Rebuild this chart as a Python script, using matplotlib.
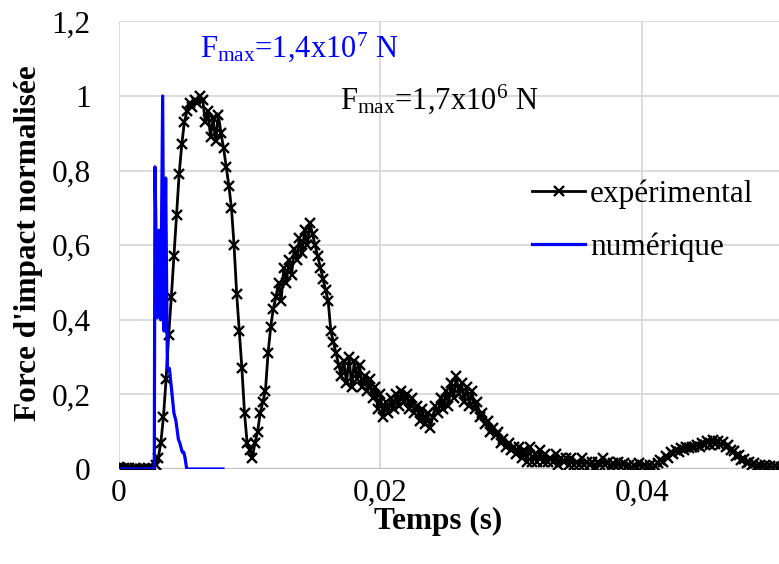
import numpy as np
import matplotlib
matplotlib.use('Agg')
import matplotlib.pyplot as plt

plt.rcParams['font.family'] = ['Liberation Serif', 'DejaVu Serif']
plt.rcParams['mathtext.fontset'] = 'custom'
plt.rcParams['mathtext.rm'] = 'Liberation Serif'
plt.rcParams['mathtext.it'] = 'Liberation Serif:italic'

# experimental signal, sampled every 0.2 ms
dt_exp = 0.0002
force_exp = [
    0.005, 0.0, 0.004, 0.0, 0.003, 0.0, 0.002, 0.001, 0.0, 0.001,
    0.0, 0.003, 0.0, 0.002, 0.01, 0.03, 0.07, 0.14, 0.24, 0.36,
    0.46, 0.57, 0.68, 0.79, 0.87, 0.93, 0.96, 0.98, 0.97, 0.99,
    0.98, 1.0, 0.99, 0.93, 0.96, 0.89, 0.94, 0.88, 0.95, 0.90,
    0.86, 0.81, 0.76, 0.70, 0.60, 0.47, 0.37, 0.27, 0.15, 0.07,
    0.05, 0.03, 0.07, 0.10, 0.15, 0.18, 0.21, 0.31, 0.38, 0.43,
    0.46, 0.50, 0.45, 0.54, 0.50, 0.56, 0.52, 0.59, 0.56, 0.62,
    0.58, 0.64, 0.60, 0.66, 0.63, 0.60, 0.57, 0.54, 0.51, 0.48,
    0.45, 0.37, 0.34, 0.31, 0.28, 0.25, 0.29, 0.23, 0.30, 0.22,
    0.29, 0.24, 0.28, 0.22, 0.25, 0.21, 0.24, 0.19, 0.22, 0.16,
    0.20, 0.14, 0.18, 0.15, 0.19, 0.16, 0.20, 0.17, 0.21, 0.18,
    0.20, 0.16, 0.19, 0.15, 0.17, 0.13, 0.16, 0.12, 0.15, 0.11,
    0.14, 0.17, 0.15, 0.19, 0.16, 0.21, 0.17, 0.23, 0.19, 0.25,
    0.20, 0.23, 0.18, 0.22, 0.17, 0.21, 0.16, 0.18, 0.14, 0.15,
    0.12, 0.13, 0.10, 0.11, 0.09, 0.10, 0.07, 0.08, 0.06, 0.07,
    0.05, 0.06, 0.04, 0.06, 0.03, 0.05, 0.02, 0.06, 0.02, 0.04,
    0.02, 0.05, 0.02, 0.04, 0.02, 0.03, 0.02, 0.04, 0.01, 0.03,
    0.02, 0.03, 0.01, 0.03, 0.01, 0.02, 0.01, 0.03, 0.01, 0.02,
    0.01, 0.02, 0.005, 0.02, 0.01, 0.03, 0.01, 0.02, 0.005, 0.015,
    0.005, 0.02, 0.005, 0.015, 0.005, 0.01, 0.003, 0.012, 0.004, 0.015,
    0.005, 0.012, 0.003, 0.01, 0.002, 0.008, 0.015, 0.025, 0.02, 0.035,
    0.03, 0.045, 0.04, 0.05, 0.045, 0.055, 0.05, 0.06, 0.055, 0.06,
    0.058, 0.065, 0.06, 0.07, 0.065, 0.075, 0.065, 0.078, 0.068, 0.075,
    0.065, 0.072, 0.06, 0.065, 0.05, 0.048, 0.035, 0.038, 0.025, 0.028,
    0.015, 0.02, 0.01, 0.015, 0.008, 0.012, 0.005, 0.01, 0.004, 0.009,
    0.003, 0.008, 0.004, 0.006,
]
time_exp = np.arange(len(force_exp)) * dt_exp

# numerical signal (time in ms)
time_num_ms = [0, 2.70, 2.75, 2.93, 3.06, 3.19, 3.34, 3.44, 3.57, 3.70, 3.85,
               4.00, 4.20, 4.35, 4.54, 4.65, 4.84, 4.95, 5.05, 5.18, 7.95]
force_num = [0, 0, 0.81, 0.405, 0.64, 0.40, 1.0, 0.37, 0.78, 0.27, 0.27,
             0.22, 0.15, 0.13, 0.08, 0.07, 0.045, 0.045, 0.03, 0, 0]
time_num = np.array(time_num_ms) / 1000.0

xticks = [0, 0.02, 0.04]
xtick_labels = ['0', '0,02', '0,04']
yticks = [0, 0.2, 0.4, 0.6, 0.8, 1.0, 1.2]
ytick_labels = ['0', '0,2', '0,4', '0,6', '0,8', '1', '1,2']

W, H = 779, 564
fig = plt.figure(figsize=(W / 100, H / 100), dpi=100)
ax = fig.add_axes([119 / W, 1 - 469 / H, 660 / W, 447.6 / H])

ax.plot(time_exp, force_exp, color='black', lw=2, marker='x', ms=6.5,
        mew=1.7, label='expérimental', zorder=3)
ax.plot(time_num, force_num, color='#0000ff', lw=2.3, label='numérique', zorder=4)

ax.set_xlim(0, 0.05048)
ax.set_ylim(0, 1.2)
ax.set_xticks(xticks)
ax.set_xticklabels(xtick_labels)
ax.set_yticks(yticks)
ax.set_yticklabels(ytick_labels)
ax.tick_params(length=0, labelsize=22.5)
ax.tick_params(axis='y', pad=20.5)
ax.tick_params(axis='x', pad=7)
ax.grid(True, color='#d9d9d9', lw=1.3)
ax.set_axisbelow(True)
for s in ax.spines.values():
    s.set_visible(False)
ax.axhline(0, color='#bfbfbf', lw=1.6, zorder=1)

# axis titles placed like the original (Excel-style)
fig.text(438 / W, 1 - 529 / H, 'Temps (s)', fontsize=22.5, fontweight='bold',
         ha='center', va='baseline')
fig.text(36 / W, 1 - 243 / H, "Force d'impact normalisée", fontsize=22.5,
         fontweight='bold', rotation=90, rotation_mode='anchor',
         ha='center', va='baseline')

ax.text(0.00619, 1.106, r'F$_{\mathrm{max}}$=1,4x10$^{7}$ N', color='#0000ff',
        fontsize=22, ha='left', va='baseline')
ax.text(0.01690, 0.965, r'F$_{\mathrm{max}}$=1,7x10$^{6}$ N', color='black',
        fontsize=22, ha='left', va='baseline')

leg = ax.legend(loc='upper left', bbox_to_anchor=(0.6258, 0.6465), frameon=False,
                fontsize=22.5, handlelength=1.7, handletextpad=0.16,
                labelspacing=0.74, borderpad=0, borderaxespad=0)

fig.savefig('out.png', dpi=100)
